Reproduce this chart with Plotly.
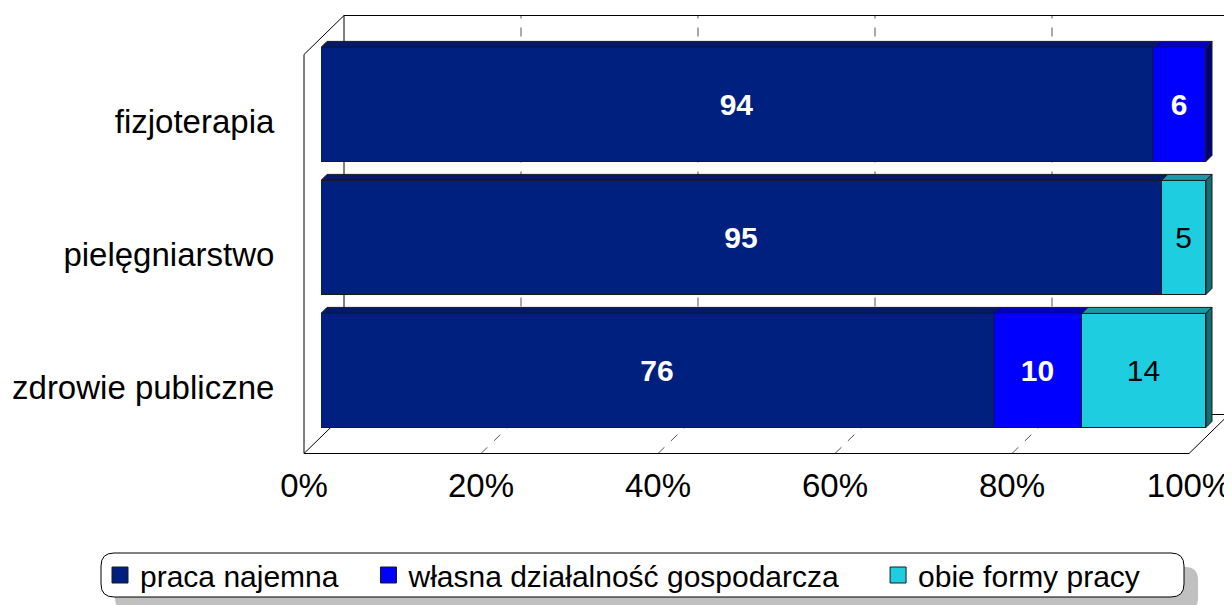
import plotly.graph_objects as go

# data (bottom to top, as drawn)
categories = ["zdrowie publiczne", "pielęgniarstwo", "fizjoterapia"]
praca_najemna = [76, 95, 94]
wlasna_dzialalnosc = [10, None, 6]
obie_formy = [14, 5, None]
series_names = ["praca najemna", "własna działalność gospodarcza", "obie formy pracy"]
x_ticks = [0, 20, 40, 60, 80, 100]
x_tick_labels = ["0%", "20%", "40%", "60%", "80%", "100%"]

# styling
front_colors = ["#00207F", "#0000FF", "#1ECDE0"]
top_colors = ["#001A66", "#0000C0", "#1A9AA6"]
side_colors = ["#001250", "#000080", "#136E74"]
text_colors = ["white", "white", "black"]
text_weights = ["bold", "bold", "normal"]
FONT = "Liberation Sans, Arial, sans-serif"

OFF = 8                       # page body margin
W, H = 1232 - OFF, 605 - OFF
PXU, PYU = 8.85, 133          # pixels per x unit / per category
X0, Y0 = 304 - OFF, 387 - OFF  # pixel of x=0 and of category 0 on the front plane
DX, DY = 40, 39               # full depth of the 3D box in pixels
BDX, BDY = 17, 16.6           # depth position of the bars
BD = 6                        # bar thickness (depth) in pixels
BAR_W = 114 / 133


def dom_x(x0, lo, hi):
    return [(x0 + lo * PXU) / W, (x0 + hi * PXU) / W]


def dom_y(y0, lo, hi):
    return [1 - (y0 - lo * PYU) / H, 1 - (y0 - hi * PYU) / H]


y_pos = list(range(len(categories)))
series = [praca_najemna, wlasna_dzialalnosc, obie_formy]

fig = go.Figure()

# invisible trace so the front-plane axes are drawn
fig.add_trace(go.Scatter(x=[0], y=[0], mode="markers", marker=dict(opacity=0),
                         showlegend=False, hoverinfo="skip"))

for name, vals, col, tc, tw in zip(series_names, series, front_colors, text_colors, text_weights):
    fig.add_trace(go.Bar(
        x=vals, y=y_pos, name=name, orientation="h",
        xaxis="x2", yaxis="y2", width=BAR_W, showlegend=False,
        marker=dict(color=col, line=dict(color="#1a1a1a", width=1)),
        text=vals, texttemplate="%{x}", textposition="inside",
        insidetextanchor="middle", textangle=0,
        textfont=dict(color=tc, size=30, family=FONT, weight=tw),
    ))

# legend entries with larger square symbols
legend_pad = ["\u00a0\u00a0\u00a0", "\u00a0\u00a0\u00a0\u00a0", ""]
for name, col, pad in zip(series_names, front_colors, legend_pad):
    fig.add_trace(go.Scatter(
        x=[None], y=[None], mode="markers", name=name + pad,
        marker=dict(symbol="square", size=16, color=col, line=dict(color="#1a1a1a", width=1)),
        hoverinfo="skip",
    ))

shapes = []

# 3D box: walls, floor, gridlines (front-plane data units)
dxu, dyu = DX / PXU, DY / PYU
lo, hi = -0.5, len(categories) - 0.5
edge = dict(color="black", width=1)
grid = dict(color="#555555", width=1, dash="dash")


def seg(x0, y0, x1, y1, line, ref=("x", "y")):
    shapes.append(dict(type="line", xref=ref[0], yref=ref[1], x0=x0, y0=y0, x1=x1, y1=y1,
                       line=line, layer="below"))


for t in x_ticks[1:]:
    seg(t + dxu, lo + dyu, t + dxu, hi + dyu, grid)
    if t < 100:
        seg(t, lo, t + dxu, lo + dyu, grid)
seg(dxu, hi + dyu, 100 + dxu, hi + dyu, edge)
seg(dxu, lo + dyu, dxu, hi + dyu, edge)
seg(dxu, lo + dyu, 100 + dxu, lo + dyu, edge)
seg(0, lo, 0, hi, edge)
seg(0, hi, dxu, hi + dyu, edge)
seg(0, lo, 100, lo, edge)
seg(0, lo, dxu, lo + dyu, edge)
seg(100, lo, 100 + dxu, lo + dyu, edge)

# bar top and side faces (bar axes units)
bdx, bdy = BD / PXU, BD / PYU
for i, yc in enumerate(y_pos):
    base = 0
    last = None
    for k, vals in enumerate(series):
        v = vals[i]
        if v is None:
            continue
        yt = yc + BAR_W / 2
        shapes.append(dict(
            type="path", xref="x2", yref="y2", layer="above",
            path=f"M{base},{yt} L{base + v},{yt} L{base + v + bdx},{yt + bdy} L{base + bdx},{yt + bdy} Z",
            fillcolor=top_colors[k], line=dict(color="#1a1a1a", width=1)))
        base += v
        last = k
    yb = yc - BAR_W / 2
    yt = yc + BAR_W / 2
    shapes.append(dict(
        type="path", xref="x2", yref="y2", layer="above",
        path=f"M{base},{yb} L{base},{yt} L{base + bdx},{yt + bdy} L{base + bdx},{yb + bdy} Z",
        fillcolor=side_colors[last], line=dict(color="#1a1a1a", width=1)))


# legend frame with shadow (reference pixel coordinates)
def rounded(x0, y0, x1, y1, r):
    px = lambda v: (v - OFF) / W
    py = lambda v: 1 - (v - OFF) / H
    return (f"M{px(x0 + r)},{py(y0)} L{px(x1 - r)},{py(y0)} Q{px(x1)},{py(y0)} {px(x1)},{py(y0 + r)} "
            f"L{px(x1)},{py(y1 - r)} Q{px(x1)},{py(y1)} {px(x1 - r)},{py(y1)} "
            f"L{px(x0 + r)},{py(y1)} Q{px(x0)},{py(y1)} {px(x0)},{py(y1 - r)} "
            f"L{px(x0)},{py(y0 + r)} Q{px(x0)},{py(y0)} {px(x0 + r)},{py(y0)} Z")


shapes.append(dict(type="path", xref="paper", yref="paper", layer="below",
                   path=rounded(115, 567, 1198, 611, 13), fillcolor="#C0C0C0", line=dict(width=0)))
shapes.append(dict(type="path", xref="paper", yref="paper", layer="below",
                   path=rounded(101, 553, 1184, 597, 13), fillcolor="white",
                   line=dict(color="black", width=1)))

fig.update_layout(
    width=W, height=H,
    margin=dict(l=0, r=0, t=0, b=0),
    paper_bgcolor="white", plot_bgcolor="rgba(0,0,0,0)",
    barmode="stack", bargap=0,
    font=dict(family=FONT, color="black"),
    shapes=shapes,
    xaxis=dict(domain=dom_x(X0, -0.3, 104.7), range=[-0.3, 104.7], tickvals=x_ticks,
               ticktext=x_tick_labels, tickfont=dict(size=33), showgrid=False,
               zeroline=False, showline=False, ticks="", ticklabelstandoff=6,
               anchor="y", automargin=False),
    yaxis=dict(domain=dom_y(Y0, -0.53, 2.81), range=[-0.53, 2.81], tickvals=y_pos,
               ticktext=categories, tickfont=dict(size=33), showgrid=False,
               zeroline=False, showline=False, ticks="", ticklabelstandoff=26,
               anchor="x", automargin=False),
    xaxis2=dict(domain=dom_x(X0 + BDX, 0, 101.5), range=[0, 101.5], visible=False,
                anchor="y2", automargin=False),
    yaxis2=dict(domain=dom_y(Y0 - BDY, -0.5, 2.6), range=[-0.5, 2.6], visible=False,
                anchor="x2", automargin=False),
    legend=dict(orientation="h", x=(100 - OFF) / W, y=1 - (575 - OFF) / H,
                xanchor="left", yanchor="middle", itemsizing="trace",
                bgcolor="rgba(0,0,0,0)", font=dict(size=30), traceorder="normal"),
    showlegend=True,
)

fig.write_html("out.html")
